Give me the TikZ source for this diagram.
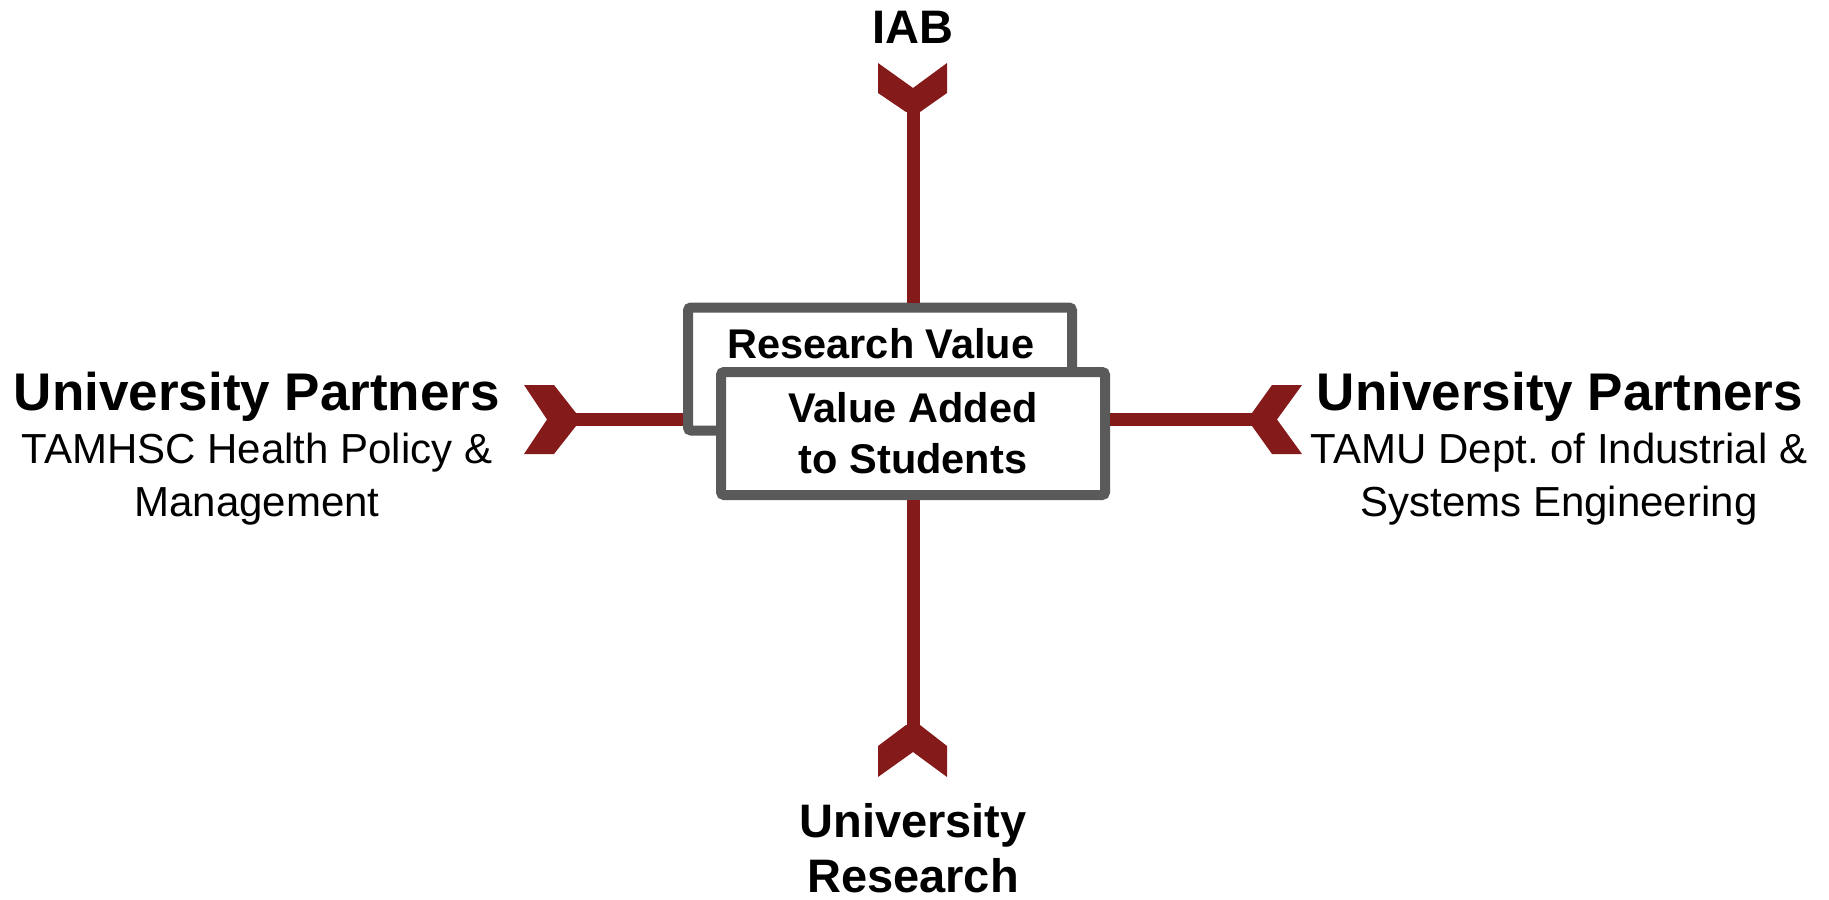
\documentclass[tikz,border=0pt]{standalone}
\usepackage{fontspec}
\setmainfont{Liberation Sans}
\usetikzlibrary{positioning}
\definecolor{maroon}{HTML}{841A1A}
\definecolor{boxgray}{HTML}{5A5A5A}
\tikzset{
  every node/.style={inner sep=0pt},
  link/.style={draw=maroon, line width=6.5pt},
  valuebox/.style={draw=boxgray, fill=white, line width=5pt, rounded corners=1.5pt,
    minimum width=192pt, minimum height=61.5pt},
  boxfont/.style={font=\fontsize{20.75}{25.5}\selectfont\bfseries},
  labelfont/.style={font=\fontsize{23.5}{27.5}\selectfont\bfseries},
  partnerfont/.style={font=\fontsize{26.5}{30}\selectfont\bfseries},
  deptfont/.style={font=\fontsize{21}{26.5}\selectfont},
}

\begin{document}
\begin{tikzpicture}[x=0.5pt, y=-0.5pt]
  \useasboundingbox (0,0) rectangle (1829,899);
  % the two boxes in the middle
  \node[valuebox] (resval) at (880,369) {};
  \node[anchor=base, boxfont] (resvaltext) at (881,358) {Research Value};
  \node[valuebox, boxfont, align=center] (valadd) at (913,433.5) {Value Added\\to Students};
  % free ends of the links
  \coordinate (toptail) at (913,112);
  \coordinate (bottail) at (913,725);
  \coordinate (lefttail) at (576,419.5);
  \coordinate (righttail) at (1252,419.5);
  \draw[link] (toptail) -- (toptail |- resval.north);
  \draw[link] (valadd.south) -- (bottail);
  \draw[link] (lefttail) -- (lefttail -| resval.west);
  \draw[link] (valadd.east |- righttail) -- (righttail);
  % tails
  \fill[maroon] (878,63) -- (913,88) -- (947,63) -- (947,93) -- (920,112) -- (906,112) -- (878,93) -- cycle;
  \fill[maroon] (878,777) -- (913,752) -- (947,777) -- (947,746) -- (920,725) -- (906,725) -- (878,746) -- cycle;
  \fill[maroon] (524,385) -- (554,385) -- (576,413) -- (576,426) -- (554,454) -- (524,454) -- (547,419.5) -- cycle;
  \fill[maroon] (1302,385) -- (1272,385) -- (1252,413) -- (1252,426) -- (1272,454) -- (1302,454) -- (1277,419.5) -- cycle;
  % labels
  \node[anchor=base, labelfont] (iab) at (913,44) {IAB};
  \node[anchor=north, labelfont, align=center] (unires) at (913,803) {University\\Research};
  \node[anchor=base, partnerfont] (leftpartner) at (257,410) {University Partners};
  \node[anchor=north, deptfont, align=center] (leftdept) at (257,433) {TAMHSC Health Policy \&\\Management};
  \node[anchor=base, partnerfont] (rightpartner) at (1560,410) {University Partners};
  \node[anchor=north, deptfont, align=center] (rightdept) at (1559,433) {TAMU Dept.\ of Industrial \&\\Systems Engineering};
\end{tikzpicture}
\end{document}
